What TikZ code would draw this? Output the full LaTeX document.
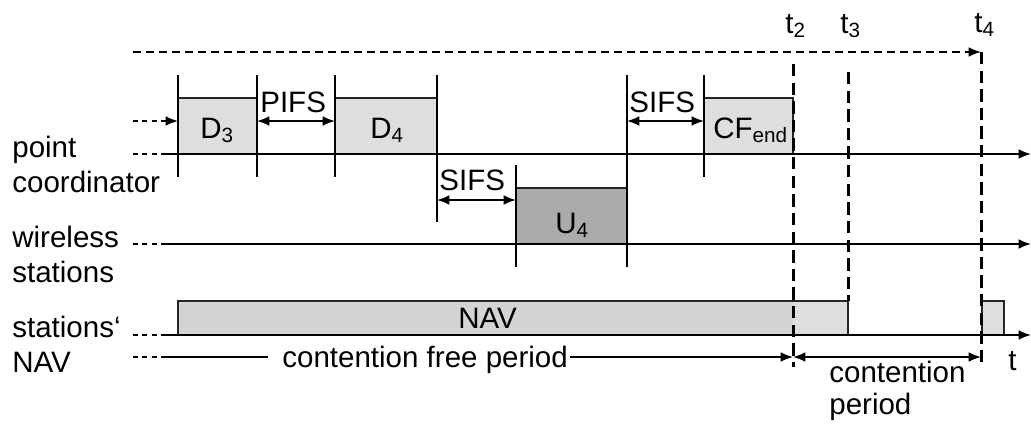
\documentclass[tikz,border=0pt]{standalone}
\usepackage{fontspec}
\setmainfont{Liberation Sans}
\usepackage{tikz}
\usetikzlibrary{arrows.meta}
\tikzset{
   lbl/.style={font=\fontsize{16.8}{19}\selectfont, inner sep=0pt, anchor=base west},
   frame/.style={draw=black!85, line width=0.9pt},
   dbox/.style={frame, fill=black!13},
   ubox/.style={frame, fill=black!33},
   tick/.style={line width=0.6pt},
   axis/.style={->, line width=0.9pt},
   lead/.style={dash pattern=on 2.8pt off 2.6pt, line width=0.6pt},
   tline/.style={dash pattern=on 7pt off 3.6pt, line width=1.7pt},
   topline/.style={->, dash pattern=on 4.5pt off 2.9pt, line width=0.85pt}
}

\begin{document}
\begin{tikzpicture}[x=0.02cm,y=-0.02cm,>={Latex[length=7pt,width=5.5pt]}]
\useasboundingbox (0,0) rectangle (1031,423);

% left labels
\node[lbl] (pc1) at (12,157) {point};
\node[lbl] (pc2) at (12,192) {coordinator};
\node[lbl] (ws1) at (12,247) {wireless};
\node[lbl] (ws2) at (12,282) {stations};
\node[lbl] (nv1) at (12,337) {stations‘};
\node[lbl] (nv2) at (12,372) {NAV};

% frames of the point coordinator
\draw[dbox] (178,98) rectangle (257,154);
\node[lbl] (d3) at (200,138) {D\textsubscript{3}};
\draw[dbox] (335,98) rectangle (437,154);
\node[lbl] (d4) at (370,138) {D\textsubscript{4}};
\draw[dbox] (704,98) rectangle (793,154);
\node[lbl] (cfend) at (713,138) {CF\textsubscript{end}};

% frame of the wireless station
\draw[ubox] (516,188) rectangle (627,244);
\node[lbl] (u4) at (555,233) {U\textsubscript{4}};

% NAV
\fill[black!17] (178,301) rectangle (793,335);
\fill[black!13] (793,301) rectangle (848,335);
\draw[frame] (178,301) rectangle (848,335);
\draw[dbox] (982,301) rectangle (1004,335);
\node[lbl] (nav) at (458,328) {NAV};

% ticks
\coordinate (a1) at (178,75);  \coordinate (a2) at (178,177);
\coordinate (b1) at (257,75);  \coordinate (b2) at (257,177);
\coordinate (c1) at (335,75);  \coordinate (c2) at (335,177);
\coordinate (e1) at (437,75);  \coordinate (e2) at (437,222);
\coordinate (f1) at (516,165); \coordinate (f2) at (516,267);
\coordinate (g1) at (627,75);  \coordinate (g2) at (627,267);
\coordinate (h1) at (704,75);  \coordinate (h2) at (704,177);
\foreach \p in {a,b,c,e,f,g,h}
  \draw[tick] (\p1) -- (\p2);

% axes
\foreach \n/\y in {pc/154,ws/244,nv/335} {
  \coordinate (\n L) at (133,\y);
  \coordinate (\n S) at (163,\y);
  \coordinate (\n E) at (1031,\y);
  \draw[lead] (\n L) -- (\n S);
  \draw[axis] (\n S) -- (\n E);
}

% interframe spaces
\coordinate (inL) at (133,121); \coordinate (inS) at (163,121); \coordinate (inE) at (178,121);
\draw[lead] (inL) -- (inS);
\draw[->, line width=0.9pt] (inS) -- (inE);
\coordinate (p1) at (257,121); \coordinate (p2) at (335,121);
\draw[<->, line width=0.9pt] (p1) -- (p2);
\node[lbl] (pifs) at (260,112) {PIFS};
\coordinate (s1) at (437,200); \coordinate (s2) at (516,200);
\draw[<->, line width=0.9pt] (s1) -- (s2);
\node[lbl] (sifs1) at (439,190) {SIFS};
\coordinate (s3) at (627,121); \coordinate (s4) at (704,121);
\draw[<->, line width=0.9pt] (s3) -- (s4);
\node[lbl] (sifs2) at (629,112) {SIFS};

% time marks
\node[lbl] (t2) at (785,33) {t\textsubscript{2}};
\node[lbl] (t3) at (840,33) {t\textsubscript{3}};
\node[lbl] (t4) at (974,32) {t\textsubscript{4}};
\coordinate (top0) at (133,52); \coordinate (top1) at (981,52);
\draw[topline] (top0) -- (top1);
\coordinate (v2a) at (793,64); \coordinate (v2b) at (793,367);
\coordinate (v3a) at (848,72); \coordinate (v3b) at (848,301);
\coordinate (v4a) at (981,52); \coordinate (v4b) at (981,368);
\draw[tline] (v2a) -- (v2b);
\draw[tline] (v3a) -- (v3b);
\draw[tline] (v4a) -- (v4b);

% periods
\coordinate (cfL) at (133,357); \coordinate (cfS) at (163,357); \coordinate (cf1) at (268,357);
\coordinate (cf2) at (570,357); \coordinate (cf3) at (793,357); \coordinate (cp1) at (981,357);
\draw[lead] (cfL) -- (cfS);
\draw[line width=0.9pt] (cfS) -- (cf1);
\node[lbl] (cfp) at (282,367) {contention free period};
\draw[->, line width=0.9pt] (cf2) -- (cf3);
\draw[<->, line width=0.9pt] (cf3) -- (cp1);
\node[lbl] (cp2) at (829,382) {contention};
\node[lbl] (cp3) at (829,414) {period};
\node[lbl] (tt) at (1008,370) {t};
\end{tikzpicture}
\end{document}
